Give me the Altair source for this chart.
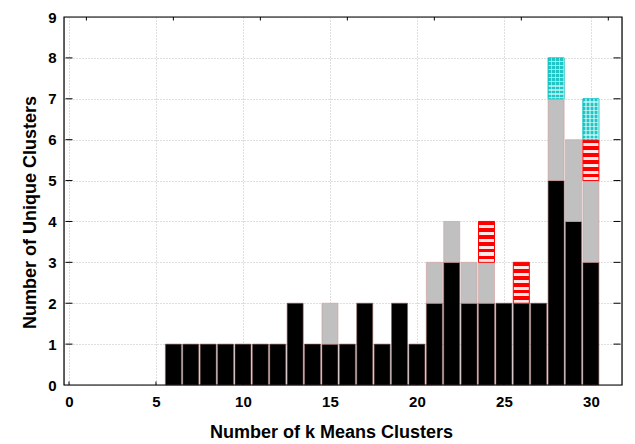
import altair as alt
import pandas as pd

k_values = list(range(6, 31))
black = [1, 1, 1, 1, 1, 1, 1, 2, 1, 1, 1, 2, 1, 2, 1, 2, 3, 2, 2, 2, 2, 2, 5, 4, 3]
gray  = [0, 0, 0, 0, 0, 0, 0, 0, 0, 1, 0, 0, 0, 0, 0, 1, 1, 1, 1, 0, 0, 0, 2, 2, 2]
red   = [0, 0, 0, 0, 0, 0, 0, 0, 0, 0, 0, 0, 0, 0, 0, 0, 0, 0, 1, 0, 1, 0, 0, 0, 1]
cyan  = [0, 0, 0, 0, 0, 0, 0, 0, 0, 0, 0, 0, 0, 0, 0, 0, 0, 0, 0, 0, 0, 0, 1, 0, 1]
x_ticks = [0, 5, 10, 15, 20, 25, 30]
top_ticks = [1, 6, 11, 16, 21, 26, 31]
y_ticks = list(range(0, 10))
side_ticks = list(range(1, 9))
X_MAX = 31.5
Y_MAX = 9

rows = []
for i, k in enumerate(k_values):
    base = 0
    for name, arr in (("black", black), ("gray", gray), ("red", red), ("cyan", cyan)):
        v = arr[i]
        if v > 0:
            rows.append({"k": k, "series": name, "start": base, "end": base + v})
            base += v
df = pd.DataFrame(rows)

vt = pd.DataFrame([{"k": t, "start": 0} for t in x_ticks] +
                  [{"k": t, "start": Y_MAX} for t in top_ticks])
ht = pd.DataFrame([{"k": 0, "start": t} for t in side_ticks] +
                  [{"k": X_MAX, "start": t} for t in side_ticks])

FONT = "Liberation Sans"
x_scale = alt.Scale(domain=[0, X_MAX], nice=False, zero=True)
y_scale = alt.Scale(domain=[0, Y_MAX], nice=False)

x_enc = alt.X("k:Q", scale=x_scale,
              axis=alt.Axis(values=x_ticks, title="Number of k Means Clusters",
                            grid=True, gridDash=[1, 2], gridColor="#bdbdbd", gridWidth=1,
                            domain=False, ticks=False, labelFont=FONT, labelFontWeight="bold",
                            labelFontSize=15, labelColor="black", labelPadding=9,
                            titleFont=FONT, titleFontWeight="bold", titleFontSize=18,
                            titleColor="black", titleBaseline="middle", titleX=267, titleY=47,
                            labelFlush=False))
y_enc = alt.Y("start:Q", scale=y_scale,
              axis=alt.Axis(values=y_ticks, title="Number of Unique Clusters",
                            grid=True, gridDash=[1, 2], gridColor="#bdbdbd", gridWidth=1,
                            domain=False, ticks=False, labelFont=FONT, labelFontWeight="bold",
                            labelFontSize=15, labelColor="black", labelPadding=8,
                            titleFont=FONT, titleFontWeight="bold", titleFontSize=18,
                            titleColor="black", titleBaseline="middle", titleX=-34, titleY=195))

def stripes(c1, c2, n, frac, horizontal=True):
    stops = []
    for j in range(n):
        a = j / n
        b = (j + frac) / n
        c = (j + 1) / n
        stops += [alt.GradientStop(color=c1, offset=a), alt.GradientStop(color=c1, offset=b),
                  alt.GradientStop(color=c2, offset=b), alt.GradientStop(color=c2, offset=c)]
    if horizontal:
        return alt.Gradient(gradient="linear", stops=stops, x1=0, x2=0, y1=0, y2=1)
    return alt.Gradient(gradient="linear", stops=stops, x1=0, x2=1, y1=0, y2=0)

base = alt.Chart(df).encode(x=x_enc, y=y_enc, y2="end:Q")

black_l = base.transform_filter(alt.datum.series == "black").mark_bar(
    size=16, fill="black", stroke="#8a5a5a", strokeWidth=0.6)
gray_l = base.transform_filter(alt.datum.series == "gray").mark_bar(
    size=16, fill="#c0c0c0", stroke="#d49a9a", strokeWidth=0.6)
red_l = base.transform_filter(alt.datum.series == "red").mark_bar(
    size=16, fill=stripes("#ff0000", "#ffe8e8", 6, 0.55), stroke="#ff0000", strokeWidth=1)
cyan_l = base.transform_filter(alt.datum.series == "cyan").mark_bar(
    size=16, fill=stripes("#22c4c4", "#9ee8e8", 10, 0.65), stroke="#00c0c0", strokeWidth=1)
cyan_v = base.transform_filter(alt.datum.series == "cyan").mark_bar(
    size=16, fill=stripes("rgba(0,0,0,0)", "rgba(200,255,255,0.55)", 4, 0.6, horizontal=False),
    strokeWidth=0)

vticks = alt.Chart(vt).mark_tick(orient="vertical", size=7, thickness=1, color="black",
                                 clip=True, opacity=1).encode(x=x_enc, y=y_enc)
hticks = alt.Chart(ht).mark_tick(orient="horizontal", size=7, thickness=1, color="black",
                                 clip=True, opacity=1).encode(x=x_enc, y=y_enc)

frame = alt.Chart(pd.DataFrame({"a": [0]})).mark_rect(
    filled=False, stroke="black", strokeWidth=1.2).encode(
    x=alt.value(0), x2=alt.value(alt.ExprRef("width")),
    y=alt.value(0), y2=alt.value(alt.ExprRef("height")))

chart = alt.layer(black_l, gray_l, red_l, cyan_l, cyan_v, vticks, hticks, frame).properties(
    width=558, height=368,
    autosize=alt.AutoSizeParams(type="none"),
    padding={"left": 56, "top": 9, "right": 5, "bottom": 59},
).configure_view(stroke="black", strokeWidth=1.2).configure(background="white")

chart.save("out.html", embed_options={"renderer": "svg", "actions": False})
